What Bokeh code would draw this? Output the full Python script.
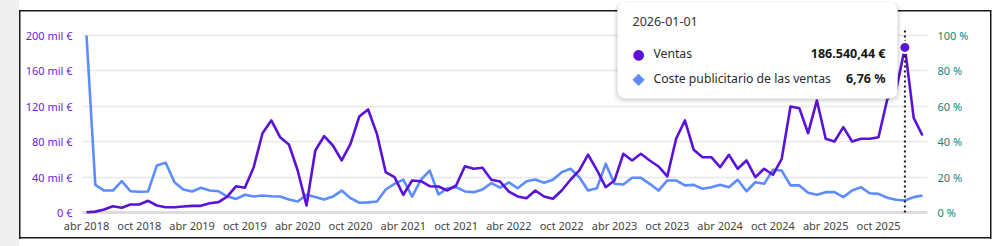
import pandas as pd
from bokeh.plotting import figure
from bokeh.models import (Range1d, LinearAxis, FixedTicker, Span, BoxAnnotation,
                          Label, ColumnDataSource)
from bokeh.embed import file_html
from bokeh.resources import INLINE

# ---------------- data ----------------
months = [d.strftime("%Y-%m-%d") for d in pd.date_range("2018-04-01", "2026-03-01", freq="MS")]

ventas = [300, 1000, 3400, 7100, 5300, 9000, 9000, 13200, 7900, 6000,
          6000, 6800, 7500, 7500, 10500, 11700, 18000, 29700, 27900, 51200,
          89600, 104000, 85100, 76800, 47500, 7900, 70000, 86200, 75700, 58800,
          77600, 108500, 116400, 88900, 45600, 39900, 20000, 36200, 35400, 29700,
          29400, 24900, 30500, 52300, 49400, 50500, 37000, 35000, 23700, 18100,
          16200, 24900, 18100, 15500, 24900, 37000, 47500, 65500, 48000, 28600,
          36200, 66300, 58800, 66300, 58800, 52000, 40700, 83300, 104000, 70900,
          62500, 62500, 51200, 65200, 49400, 58800, 39900, 49400, 42600, 60700,
          119800, 117900, 89600, 126600, 83300, 80200, 96400, 80200, 83300, 83300,
          85100, 128000, 138000, 186540.44, 107000, 87000]

coste_pct = [100, 15.6, 12.4, 12.4, 17.7, 12.0, 11.7, 11.9, 26.6, 28.1,
             17.1, 13.0, 11.9, 14.0, 12.4, 12.0, 9.0, 7.7, 10.0, 9.0,
             9.6, 9.2, 9.0, 7.3, 6.2, 10.0, 8.7, 7.3, 9.0, 12.4,
             8.1, 5.5, 5.7, 6.2, 13.0, 16.2, 18.6, 9.0, 18.5, 23.7,
             10.2, 13.7, 14.3, 11.9, 11.5, 13.0, 16.6, 14.0, 17.0, 13.7,
             17.7, 18.6, 16.8, 18.5, 22.8, 24.7, 19.9, 12.4, 13.7, 27.5,
             16.2, 15.8, 19.6, 19.6, 16.2, 12.4, 18.1, 18.1, 15.3, 15.6,
             13.4, 14.3, 15.7, 14.3, 18.5, 12.0, 17.1, 16.2, 24.1, 23.7,
             15.3, 15.3, 11.1, 10.0, 11.5, 11.5, 8.7, 12.4, 14.3, 10.9,
             10.5, 8.3, 7.2, 6.76, 8.7, 9.6]

x_tick_months = ["2018-04-01", "2018-10-01", "2019-04-01", "2019-10-01", "2020-04-01",
                 "2020-10-01", "2021-04-01", "2021-10-01", "2022-04-01", "2022-10-01",
                 "2023-04-01", "2023-10-01", "2024-04-01", "2024-10-01", "2025-04-01",
                 "2025-10-01"]
x_tick_labels = ["abr 2018", "oct 2018", "abr 2019", "oct 2019", "abr 2020", "oct 2020",
                 "abr 2021", "oct 2021", "abr 2022", "oct 2022", "abr 2023", "oct 2023",
                 "abr 2024", "oct 2024", "abr 2025", "oct 2025"]

left_ticks = [0, 40000, 80000, 120000, 160000, 200000]
left_labels = ["0 €", "40 mil €", "80 mil €", "120 mil €", "160 mil €", "200 mil €"]
right_ticks = [0, 20, 40, 60, 80, 100]
right_labels = ["0 %", "20 %", "40 %", "60 %", "80 %", "100 %"]

series_names = ["Ventas", "Coste publicitario de las ventas"]
hover_month = "2026-01-01"

# ---------------- style / layout ----------------
FONT = "Noto Sans"
PURPLE = "#5b12d8"
BLUE = "#5c8cff"
W, H = 1000, 246
FL, FR, FT, FB = 82, 927, 0, 216           # plot frame edges (page px)
X0_PX, X1_PX = 86, 922                     # first / last point (page px)
Y0_PX, YMAX_PX = 212, 35                   # value 0 / 200 mil (page px)
DOT_TOP_PX = 27                            # top of the hover guide (page px)

idx = list(range(len(months)))
n = len(months)
ppm = (X1_PX - X0_PX) / (n - 1)
x_start = -(X0_PX - FL) / ppm
x_end = (n - 1) + (FR - X1_PX) / ppm
upp = left_ticks[-1] / (Y0_PX - YMAX_PX)
y_start = -(FB - Y0_PX) * upp
y_end = left_ticks[-1] + (YMAX_PX - FT) * upp
ratio = left_ticks[-1] / right_ticks[-1]

# card frame + grey side strip drawn as CSS background behind a transparent canvas
LINE = "#1a1a1a"
g = f"linear-gradient({LINE},{LINE})"
card_css = {
    "background-color": "white",
    "background-image": f"{g}, {g}, {g}, {g}, linear-gradient(#efefef,#efefef)",
    "background-size": "972px 1.5px, 972px 1.5px, 1.5px 229px, 1.5px 229px, 19px 246px",
    "background-position": "19px 10px, 19px 237px, 19px 10px, 989.5px 10px, 0px 0px",
    "background-repeat": "no-repeat",
}

p = figure(width=W, height=H, output_backend="svg", toolbar_location=None,
           x_range=Range1d(x_start, x_end), y_range=Range1d(y_start, y_end),
           min_border_left=FL, min_border_right=W - FR, min_border_top=FT,
           min_border_bottom=H - FB, outline_line_color=None,
           background_fill_alpha=0, border_fill_alpha=0, styles=card_css)
p.extra_y_ranges = {"pct": Range1d(y_start / ratio, y_end / ratio)}

# axes
tick_pos = [months.index(m) for m in x_tick_months]
p.xaxis.ticker = FixedTicker(ticks=tick_pos)
p.xaxis.major_label_overrides = {t: l for t, l in zip(tick_pos, x_tick_labels)}
p.xaxis.axis_line_color = None
p.xaxis.major_tick_line_color = None
p.xaxis.minor_tick_line_color = None
p.xaxis.major_tick_out = 0
p.xaxis.major_tick_in = 0
p.xaxis.major_label_standoff = 1
p.xaxis.major_label_text_font = FONT
p.xaxis.major_label_text_font_size = "11px"
p.xaxis.major_label_text_color = "#444444"

p.yaxis.ticker = FixedTicker(ticks=left_ticks)
p.yaxis.major_label_overrides = {t: l for t, l in zip(left_ticks, left_labels)}
p.yaxis.axis_line_color = None
p.yaxis.major_tick_line_color = None
p.yaxis.minor_tick_line_color = None
p.yaxis.major_tick_out = 0
p.yaxis.major_tick_in = 0
p.yaxis.major_label_standoff = 10
p.yaxis.major_label_text_font = FONT
p.yaxis.major_label_text_font_size = "11px"
p.yaxis.major_label_text_color = "#6a22e6"

ax_r = LinearAxis(y_range_name="pct", ticker=FixedTicker(ticks=right_ticks),
                  major_label_overrides={t: l for t, l in zip(right_ticks, right_labels)},
                  axis_line_color=None, major_tick_line_color=None,
                  minor_tick_line_color=None, major_tick_out=0, major_tick_in=0,
                  major_label_standoff=10,
                  major_label_text_font=FONT, major_label_text_font_size="11px",
                  major_label_text_color="#11877c")
p.add_layout(ax_r, "right")

p.xgrid.visible = False
p.ygrid.ticker = FixedTicker(ticks=left_ticks)
p.ygrid.grid_line_color = "#e8e8e8"
p.ygrid.grid_line_width = 1.5
p.add_layout(Span(location=0, dimension="width", line_color="#dcdcdc",
                  line_width=3, level="underlay"))

# series
src = ColumnDataSource(dict(i=idx, ventas=ventas, coste=coste_pct))
p.line(x="i", y="coste", source=src, y_range_name="pct", line_color=BLUE,
       line_width=2.6, line_join="round")
p.line(x="i", y="ventas", source=src, line_color=PURPLE, line_width=2.6,
       line_join="round")

# hover state
hi = months.index(hover_month)
p.segment(x0=[idx[hi]], y0=[left_ticks[0]], x1=[idx[hi]],
          y1=[left_ticks[-1] + (YMAX_PX - DOT_TOP_PX) * upp],
          line_color="#1a1a1a", line_width=2, line_dash="2 3")
p.scatter(x=[idx[hi]], y=[ventas[hi]], size=11, fill_color=PURPLE,
          line_color="white", line_width=2)

# tooltip
def fmt_eur(v):
    s = f"{v:,.2f}".replace(",", "X").replace(".", ",").replace("X", ".")
    return s + " €"

def fmt_pct(v):
    return f"{v:.2f}".replace(".", ",") + " %"

TL, TR, TT, TB = 617, 897, 1, 98
for d, a in [(4, 0.03), (2.5, 0.045), (1, 0.065)]:
    p.add_layout(BoxAnnotation(left=TL - d, right=TR + d, top=TT, bottom=TB + d + 1,
                               left_units="canvas", right_units="canvas",
                               top_units="canvas", bottom_units="canvas",
                               fill_color="black", fill_alpha=a, line_color=None,
                               border_radius=10))
p.add_layout(BoxAnnotation(left=TL, right=TR, top=TT, bottom=TB,
                           left_units="canvas", right_units="canvas",
                           top_units="canvas", bottom_units="canvas",
                           fill_color="white", fill_alpha=1, line_color="#ececec",
                           line_width=1, border_radius=8))

def lab(px, py, text, **kw):
    opts = dict(text_font=FONT, text_font_size="12.2px", text_color="#2b2b2b",
                text_baseline="middle", text_align="left")
    opts.update(kw)
    p.add_layout(Label(x=px - FL, y=FB - py, x_units="screen", y_units="screen",
                       text=text, **opts))

lab(632, 21, hover_month, text_color="#333333", text_font_size="12.5px")
lab(638, 53, "●", text_align="center", text_color=PURPLE, text_font_size="14px",
    text_font="DejaVu Sans")
lab(653, 53, series_names[0])
lab(885, 53, fmt_eur(ventas[hi]), text_align="right", text_font_style="bold",
    text_color="#161616", text_font_size="12.5px")
lab(638, 78, "◆", text_align="center", text_color=BLUE, text_font_size="16px",
    text_font="DejaVu Sans")
lab(653, 78, series_names[1])
lab(885, 78, fmt_pct(coste_pct[hi]), text_align="right", text_font_style="bold",
    text_color="#161616", text_font_size="12.5px")

open("out.html", "w").write(file_html(p, INLINE))
